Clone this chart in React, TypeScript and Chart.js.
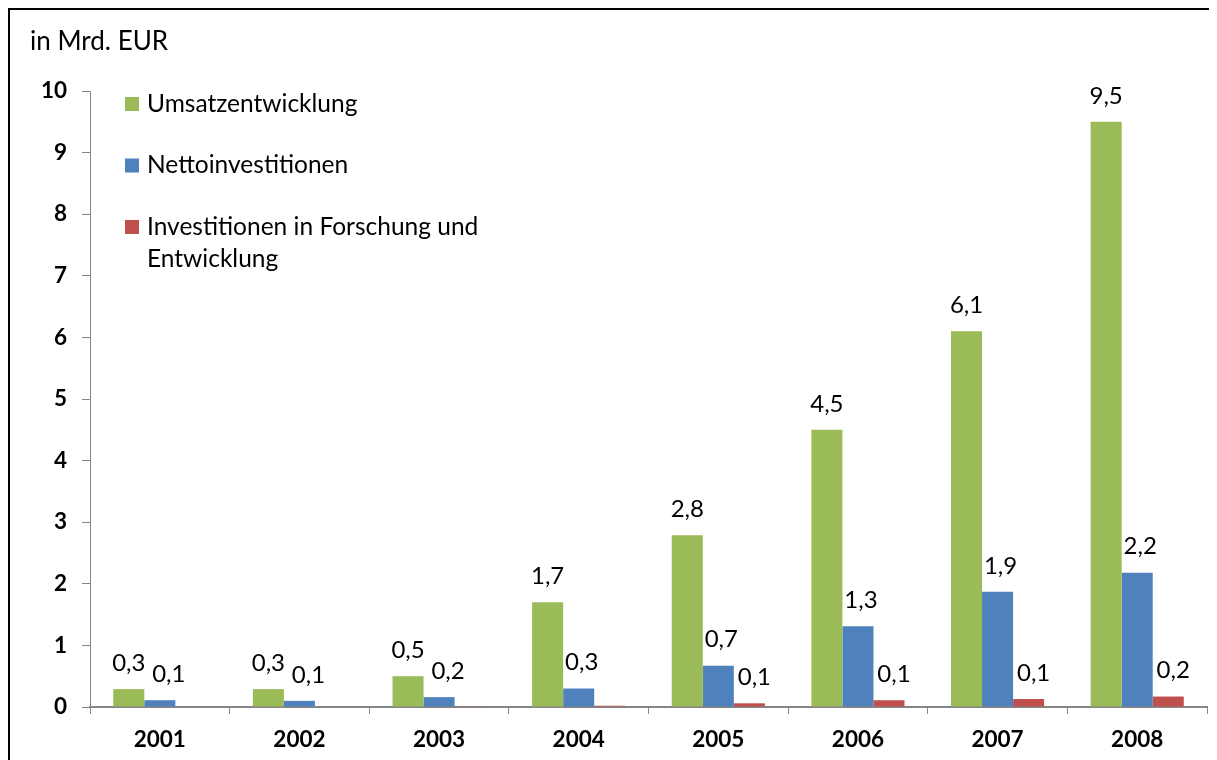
import React, { useEffect, useRef } from "react";
import { Chart, registerables } from "chart.js";

Chart.register(...registerables);

const categories = ["2001", "2002", "2003", "2004", "2005", "2006", "2007", "2008"];
const seriesNames = ["Umsatzentwicklung", "Nettoinvestitionen", "Investitionen in Forschung und Entwicklung"];
const umsatz = [0.29, 0.29, 0.5, 1.7, 2.79, 4.5, 6.1, 9.5];
const netto = [0.11, 0.1, 0.16, 0.3, 0.67, 1.31, 1.87, 2.18];
const fue = [0, 0, 0.005, 0.02, 0.06, 0.11, 0.13, 0.17];
const colors = ["#9BBB59", "#4F81BD", "#C0504D"];
const yTicks = [0, 1, 2, 3, 4, 5, 6, 7, 8, 9, 10];
const unitLabel = "in Mrd. EUR";

const FONT = "Lato, 'Open Sans', sans-serif";
const labelShift = [0, 3, 5];

const fmt = (v: number) => v.toFixed(1).replace(".", ",");

const overlayPlugin = {
  id: "overlay",
  afterDatasetsDraw(chart: any) {
    const ctx = chart.ctx as CanvasRenderingContext2D;
    ctx.save();
    ctx.fillStyle = "#000";
    ctx.font = `24px ${FONT}`;
    ctx.textAlign = "center";
    ctx.textBaseline = "middle";
    chart.data.datasets.forEach((ds: any, di: number) => {
      const meta = chart.getDatasetMeta(di);
      meta.data.forEach((bar: any, i: number) => {
        const v = ds.data[i] as number;
        if (v < 0.05) return;
        const extra = di === 1 && v < 0.25 ? 6 : 0;
        ctx.fillText(fmt(v), bar.x + labelShift[di] + extra, bar.y - 26);
      });
    });
    ctx.textAlign = "left";
    ctx.font = `26px ${FONT}`;
    ctx.fillText(unitLabel, 20, 32);
    const area = chart.chartArea;
    ctx.font = `24.5px ${FONT}`;
    const x0 = area.left + 35;
    let y = area.top + 13;
    seriesNames.forEach((name, i) => {
      ctx.fillStyle = colors[i];
      ctx.fillRect(x0, y - 7, 14, 14);
      ctx.fillStyle = "#000";
      const words = name.split(" ");
      const lines: string[] = [];
      let cur = "";
      words.forEach((w) => {
        const t = cur ? cur + " " + w : w;
        if (ctx.measureText(t).width > 345 && cur) {
          lines.push(cur);
          cur = w;
        } else cur = t;
      });
      if (cur) lines.push(cur);
      lines.forEach((ln, li) => {
        ctx.fillText(ln, x0 + 22, y + li * 32);
      });
      y += 61.5;
    });
    ctx.restore();
  },
};

export default function App() {
  const ref = useRef<HTMLCanvasElement | null>(null);
  useEffect(() => {
    if (!ref.current) return;
    const chart = new Chart(ref.current, {
      type: "bar",
      data: {
        labels: categories,
        datasets: [
          { label: seriesNames[0], data: umsatz, backgroundColor: colors[0] },
          { label: seriesNames[1], data: netto, backgroundColor: colors[1] },
          { label: seriesNames[2], data: fue, backgroundColor: colors[2] },
        ],
      },
      options: {
        responsive: false,
        animation: false,
        devicePixelRatio: 1,
        layout: { padding: { top: 81, right: 10, left: 0, bottom: 0 } },
        datasets: { bar: { categoryPercentage: 0.667, barPercentage: 1.0 } },
        plugins: { legend: { display: false }, tooltip: { enabled: false } },
        scales: {
          x: {
            grid: { display: true, drawOnChartArea: false, drawTicks: true, tickLength: 7, color: "#868686", offset: true },
            border: { display: true, color: "#868686", width: 2 },
            ticks: { color: "#000", font: { family: FONT, size: 22.5, weight: "bold" }, padding: 12 },
            afterFit: (s: any) => { s.height = 53; },
          },
          y: {
            min: 0,
            max: 10,
            afterBuildTicks: (s: any) => { s.ticks = yTicks.map((v) => ({ value: v })); },
            grid: { display: true, drawOnChartArea: false, drawTicks: true, tickLength: 8, color: "#868686" },
            border: { display: true, color: "#868686", width: 1 },
            ticks: { color: "#000", font: { family: FONT, size: 22.5, weight: "bold" }, padding: 15 },
            afterFit: (s: any) => { s.width = 80; },
          },
        },
      },
      plugins: [overlayPlugin],
    } as any);
    return () => chart.destroy();
  }, []);
  return (
    <div
      style={{
        width: 1209,
        height: 752,
        borderTop: "2px solid #000",
        borderLeft: "2px solid #000",
        boxSizing: "border-box",
        position: "relative",
        background: "#fff",
      }}
    >
      <canvas ref={ref} width={1207} height={750} style={{ display: "block" }} />
    </div>
  );
}
